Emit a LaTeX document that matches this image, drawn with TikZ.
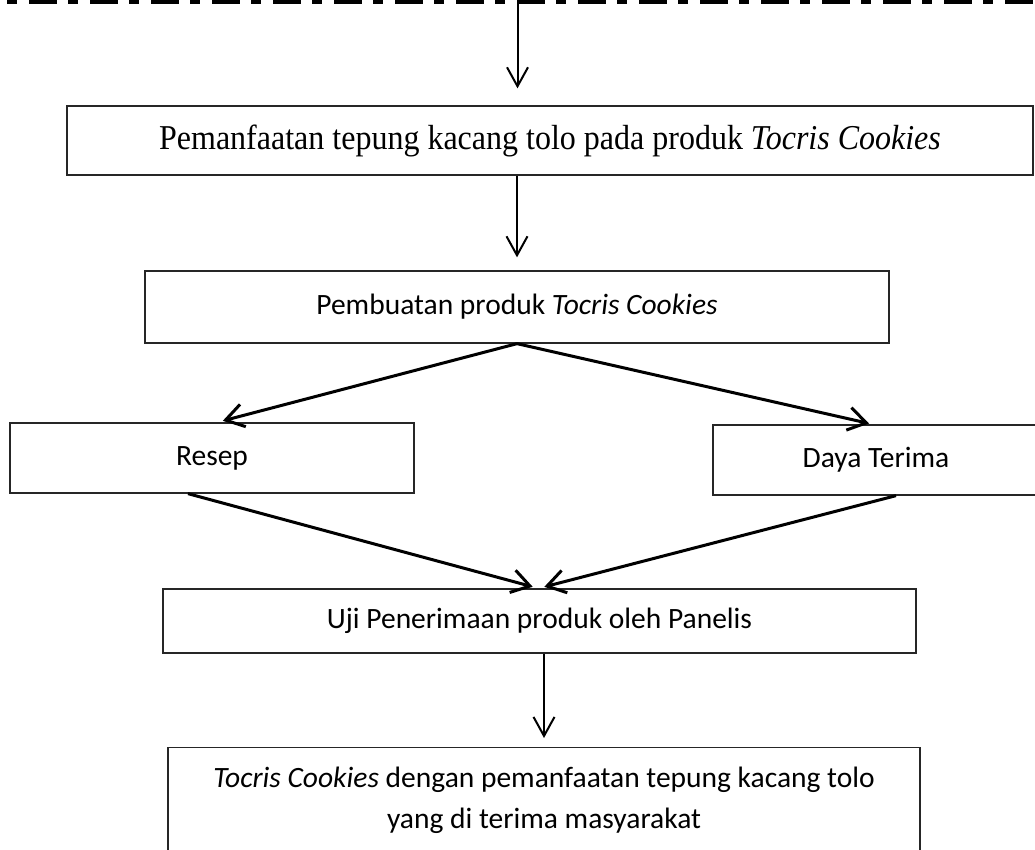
\documentclass[tikz,border=0pt]{standalone}
\usepackage{fontspec}
\setmainfont{Liberation Serif}
\newfontfamily\calfont{Carlito}
\usetikzlibrary{arrows.meta}
\tikzset{
  box/.style={draw=black!85, line width=1.3pt, rectangle, inner sep=0pt, align=center},
  serifbox/.style={box, font=\fontsize{32}{38}\selectfont},
  calbox/.style={box, font=\calfont\fontsize{29.5}{41}\selectfont},
  arr/.style={line width=2pt, -{Straight Barb[length=19pt,width=21pt]}},
  darr/.style={line width=3pt, -{Straight Barb[length=18pt,width=23pt]}},
  dashline/.style={line width=4pt, dash pattern=on 10pt off 12pt on 28pt off 11pt, dash phase=-7pt}
}
\begin{document}
\begin{tikzpicture}[x=1pt,y=-1pt]
\useasboundingbox (0,0) rectangle (1035,850);
\fill[white] (0,0) rectangle (1035,850);
% top dash-dot line
\coordinate (dl) at (0,2);
\coordinate (dr) at (1035,2);
\draw[dashline] (dl) -- (dr);
\coordinate (top) at (517.5,4);
% boxes
\node[serifbox, minimum width=966pt, minimum height=69pt] (b1) at (550,140.5)
  {\scalebox{1}[1.09]{Pemanfaatan tepung kacang tolo pada produk \textit{Tocris Cookies}}};
\node[calbox, minimum width=744pt, minimum height=72pt] (b2) at (517,307)
  {Pembuatan produk \textit{Tocris Cookies}};
\node[calbox, minimum width=404pt, minimum height=70pt] (resep) at (212,458) {Resep};
\node[calbox, minimum width=326pt, minimum height=70pt] (daya) at (876,460) {Daya Terima};
\node[calbox, minimum width=753pt, minimum height=64pt] (uji) at (539.5,621)
  {Uji Penerimaan produk oleh Panelis};
\node[calbox, minimum width=752pt, minimum height=106pt, anchor=north] (last) at (544,747)
  {\textit{Tocris Cookies} dengan pemanfaatan tepung kacang tolo\\yang di terima masyarakat};
% connectors
\draw[arr, shorten >=17pt] (top) -- (top |- b1.north);
\draw[arr, shorten >=13pt] (b1.south -| b2.north) -- (b2.north);
\draw[darr, shorten >=6pt] (b2.south) -- ([xshift=5pt]resep.north);
\draw[darr, shorten >=4pt] (b2.south) -- ([xshift=-3pt]daya.north);
\draw[darr, shorten >=6pt] ([xshift=-24pt]resep.south) -- ([xshift=-1pt]uji.north);
\draw[darr, shorten >=6pt] ([xshift=20pt]daya.south) -- ([xshift=-1pt]uji.north);
\draw[arr, shorten >=9pt] (uji.south -| last.north) -- (last.north);
\end{tikzpicture}
\end{document}
